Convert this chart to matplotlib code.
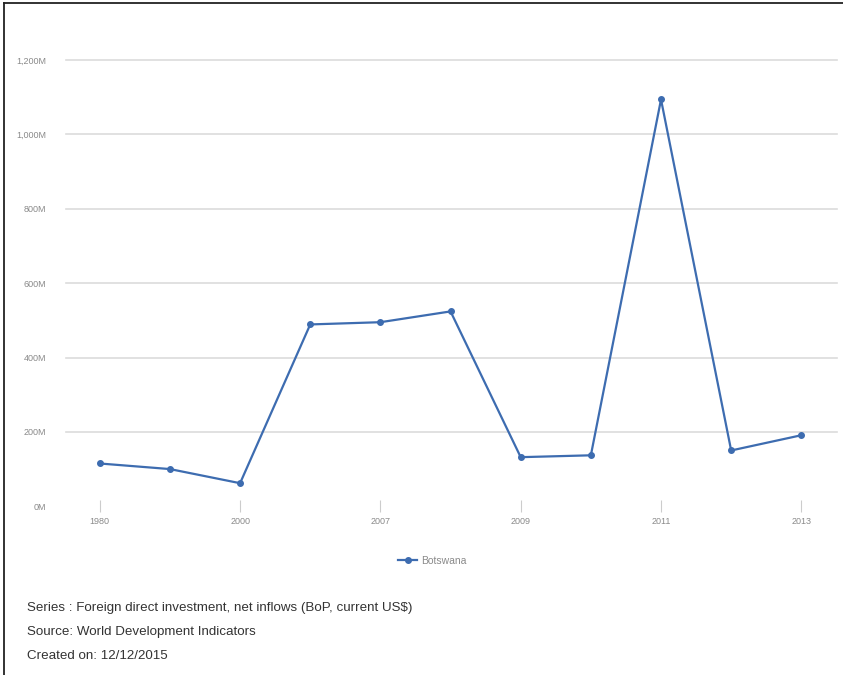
import matplotlib.pyplot as plt
from matplotlib.lines import Line2D

years = ["1980", "1990", "2000", "2006", "2007", "2008", "2009", "2010", "2011", "2012", "2013"]
fdi_musd = [115, 100, 62, 489, 495, 524, 132, 137, 1094, 150, 191]
y_ticks = [0, 200, 400, 600, 800, 1000, 1200]
y_labels = ["0M", "200M", "400M", "600M", "800M", "1,000M", "1,200M"]

line_color = "#3d6cb0"
grid_color = "#dcdcdc"
text_gray = "#8a8a8a"

plt.rcParams["font.family"] = ["Liberation Sans", "DejaVu Sans"]

fig = plt.figure(figsize=(8.43, 6.75), dpi=100)
# frame only on left and top, like the screenshot
fig.lines.append(Line2D([0.005, 0.005], [0.0, 0.996], transform=fig.transFigure,
                        color="#222222", linewidth=1.3))
fig.lines.append(Line2D([0.005, 1.0], [0.996, 0.996], transform=fig.transFigure,
                        color="#222222", linewidth=1.3))

ax = fig.add_axes([0.078, 0.25, 0.915, 0.661])
x = list(range(len(years)))
ax.plot(x, fdi_musd, color=line_color, linewidth=1.6, marker="o", markersize=4,
        markerfacecolor=line_color, markeredgecolor=line_color)

ax.set_xlim(-0.485, 10.51)
ax.set_ylim(0, 1200)
ax.set_yticks(y_ticks)
ax.set_yticklabels(y_labels, fontsize=6.5, color=text_gray)
ax.set_xticks(x[::2])
ax.set_xticklabels(years[::2], fontsize=6.5, color=text_gray)
for t in y_ticks[1:]:
    ax.axhline(t, color=grid_color, linewidth=1.2, zorder=0, clip_on=False)
for s in ax.spines.values():
    s.set_visible(False)
ax.tick_params(axis="y", length=0, pad=14)
ax.tick_params(axis="x", length=8, color="#cccccc", direction="inout", pad=4)

handle = Line2D([0], [0], color=line_color, linewidth=1.6, marker="o", markersize=4)
fig.legend([handle], ["Botswana"], loc="center", bbox_to_anchor=(0.513, 0.169),
           frameon=False, fontsize=7.5, labelcolor=text_gray, handlelength=1.8,
           handletextpad=0.4)

footer = ["Series : Foreign direct investment, net inflows (BoP, current US$)",
          "Source: World Development Indicators",
          "Created on: 12/12/2015"]
for i, line in enumerate(footer):
    fig.text(0.032, 1 - (608 + i * 24) / 675, line, fontsize=9.6, color="#333333", va="center")

fig.savefig("out.png", dpi=100)
